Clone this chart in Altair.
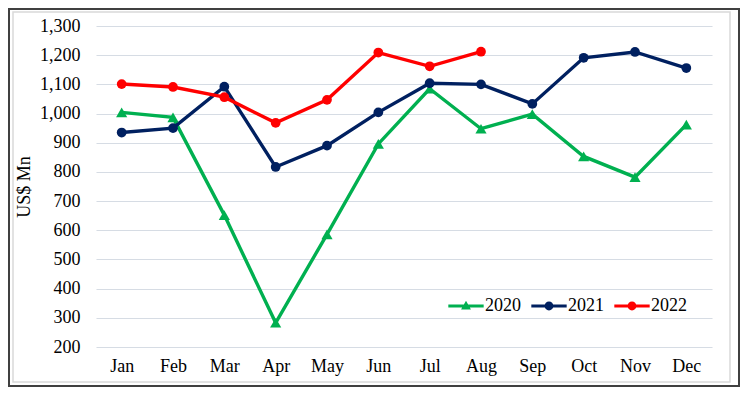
import altair as alt
import pandas as pd

months = ["Jan", "Feb", "Mar", "Apr", "May", "Jun", "Jul", "Aug", "Sep", "Oct", "Nov", "Dec"]
years = ["2020", "2021", "2022"]
v2020 = [1004, 987, 652, 283, 586, 896, 1085, 948, 998, 853, 782, 962]
v2021 = [935, 950, 1092, 817, 890, 1004, 1104, 1100, 1033, 1191, 1211, 1156]
v2022 = [1101, 1091, 1056, 968, 1047, 1209, 1162, 1212]
colors = ["#00B050", "#002060", "#FF0000"]

rows = []
for yr, vals in zip(years, [v2020, v2021, v2022]):
    for m, v in zip(months, vals):
        rows.append({"Month": m, "Year": yr, "Value": v})
df = pd.DataFrame(rows)

FONT = "'Liberation Serif', 'Times New Roman', 'DejaVu Serif', serif"
FS = 18

x = alt.X("Month:N", sort=months, title=None,
          scale=alt.Scale(type="point", padding=0.5),
          axis=alt.Axis(labelFont=FONT, labelFontSize=FS, labelColor="#000000",
                        labelPadding=10, ticks=False, domain=False, grid=False, labelAngle=0))
y = alt.Y("Value:Q", title="US$ Mn",
          scale=alt.Scale(domain=[200, 1300], nice=False, zero=False),
          axis=alt.Axis(values=list(range(200, 1301, 100)), format=",.0f",
                        labelFont=FONT, labelFontSize=FS, labelColor="#000000",
                        labelPadding=16, ticks=False, domain=False,
                        gridColor="#D6DCE4", gridWidth=1.2,
                        titleFont=FONT, titleFontSize=FS, titleFontWeight="normal",
                        titleColor="#000000", titleX=-63))
color = alt.Color("Year:N", scale=alt.Scale(domain=years, range=colors), legend=None)

base = alt.Chart(df)
lines = base.mark_line(strokeWidth=3.4).encode(x=x, y=y, color=color, detail="Year:N")
tri = base.transform_filter("datum.Year == '2020'").mark_point(
    filled=True, opacity=1, shape="triangle-up", size=125).encode(x=x, y=y, color=color)
circ = base.transform_filter("datum.Year != '2020'").mark_point(
    filled=True, opacity=1, shape="circle", size=95).encode(x=x, y=y, color=color)

line_path = "M-1,-0.09L1,-0.09L1,0.09L-1,0.09Z"
tri_path = line_path + "M-0.28,0.2L0,-0.3L0.28,0.2Z"
circ_path = line_path + "M-0.25,0A0.25,0.25 0 1,1 0.25,0A0.25,0.25 0 1,1 -0.25,0Z"

leg = dict(title=None, orient="none", legendX=352, legendY=262,
           direction="horizontal", labelFont=FONT, labelFontSize=FS,
           labelColor="#000000", labelOffset=1, columnPadding=10,
           symbolSize=1250, symbolStrokeWidth=0, padding=0)

legend_layer = base.transform_filter("datum.Value < 0").mark_point(
    filled=True, opacity=1, size=1250).encode(
    fill=alt.Fill("Year:N", scale=alt.Scale(domain=years, range=colors),
                  legend=alt.Legend(**leg)),
    shape=alt.Shape("Year:N", scale=alt.Scale(domain=years, range=[tri_path, circ_path, circ_path]),
                    legend=alt.Legend(**leg)),
)

frame_data = alt.Data(values=[{"a": 1}])
outer = alt.Chart(frame_data).mark_rect(fillOpacity=0, stroke="#404040", strokeWidth=2).encode(
    x=alt.value(-87), x2=alt.value(643), y=alt.value(-17), y2=alt.value(360))
inner = alt.Chart(frame_data).mark_rect(fillOpacity=0, stroke="#D9D9D9", strokeWidth=1.5).encode(
    x=alt.value(-83), x2=alt.value(634), y=alt.value(-14), y2=alt.value(356))

chart = alt.layer(outer, inner, lines, tri, circ, legend_layer).resolve_scale(
    color="independent"
).properties(
    width=616, height=321, autosize="none",
    padding={"left": 88, "top": 18, "right": 28, "bottom": 40},
    background="#FFFFFF",
).configure(font=FONT).configure_view(fill="#DEEBF7", stroke=None).configure_legend(
    labelFont=FONT, labelFontSize=FS, labelColor="#000000"
).configure_axis(labelFont=FONT, titleFont=FONT)

chart.save("out.html", embed_options={"renderer": "svg", "actions": False})
